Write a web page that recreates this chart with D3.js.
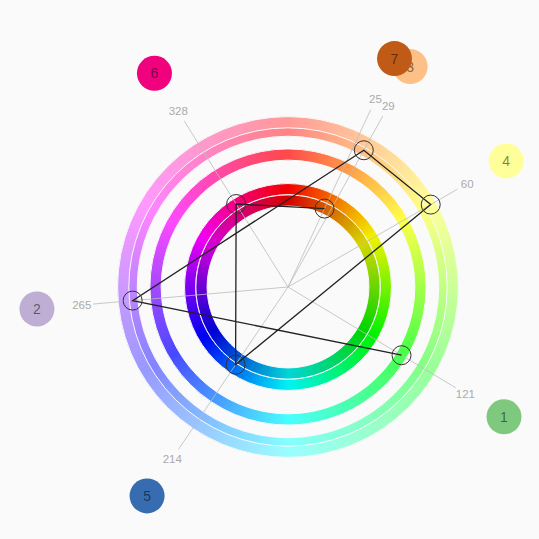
<!DOCTYPE html>
<html>
<head>
<meta charset="utf-8">
<script src="https://cdn.jsdelivr.net/npm/d3@7"></script>
<style>
  html, body { margin: 0; padding: 0; background: #fafafa; }
  svg { display: block; }
</style>
</head>
<body>
<svg id="chart" width="539" height="539"></svg>
<script>
// Palette entries (order 1..7)
const ids = ["1", "2", "3", "4", "5", "6", "7"];
const swatches = ["#7fc97f", "#beaed4", "#fdc086", "#ffff99", "#386cb0", "#f0027f", "#bf5b17"];
const hues = [121, 265, 29, 60, 214, 328, 25];
const lightness = [0.643, 0.757, 0.759, 0.8, 0.455, 0.475, 0.42];

const W = 539, H = 539;
const svg = d3.select("#chart");
svg.append("rect").attr("width", W).attr("height", H).attr("fill", "#fafafa");
const g = svg.append("g").attr("transform", "translate(288,287)");

const r = d3.scaleLinear().domain([0, 1]).range([0, 206]);
const ang = d3.scaleLinear().domain([0, 360]).range([0, 2 * Math.PI]);
const px = (h, rad) => rad * Math.sin(ang(h));
const py = (h, rad) => -rad * Math.cos(ang(h));

const band = 5.6;
const arc = d3.arc();
const steps = d3.range(0, 360, 1);

// Lightness rings, one per colour, drawn in order
ids.forEach((id, i) => {
  const rr = r(lightness[i]);
  const ring = g.append("g");
  ring.selectAll("path").data(steps).join("path")
    .attr("d", d => arc({
      innerRadius: rr - band, outerRadius: rr + band,
      startAngle: ang(d - 0.4), endAngle: ang(d + 1.4)
    }))
    .attr("fill", d => d3.hsl(d + 0.5, 1, lightness[i]).formatHex());
  ring.selectAll("circle").data([rr - band, rr + band]).join("circle")
    .attr("r", d => d).attr("fill", "none")
    .attr("stroke", "#fafafa").attr("stroke-width", 1);
});

// Radial hue lines
g.selectAll("line.spoke").data(ids).join("line").attr("class", "spoke")
  .attr("x1", 0).attr("y1", 0)
  .attr("x2", (d, i) => px(hues[i], r(0.95)))
  .attr("y2", (d, i) => py(hues[i], r(0.95)))
  .attr("stroke", "#bbb").attr("stroke-opacity", 0.8).attr("stroke-width", 1);

// Hue labels
g.selectAll("text.hue").data(ids).join("text").attr("class", "hue")
  .attr("x", (d, i) => px(hues[i], r(1) + 1))
  .attr("y", (d, i) => py(hues[i], r(1) + 1))
  .attr("text-anchor", "middle").attr("dominant-baseline", "central")
  .attr("font-family", "'Helvetica Neue', Arial, 'Liberation Sans', sans-serif")
  .attr("font-size", 11.5).attr("fill", "#aaa")
  .text((d, i) => hues[i]);

// Connecting path in palette order
const line = d3.line();
g.append("path")
  .attr("d", line(ids.map((d, i) => [px(hues[i], r(lightness[i])), py(hues[i], r(lightness[i]))])))
  .attr("fill", "none").attr("stroke", "#222").attr("stroke-width", 1.3);

// Point markers
g.selectAll("circle.pt").data(ids).join("circle").attr("class", "pt")
  .attr("cx", (d, i) => px(hues[i], r(lightness[i])))
  .attr("cy", (d, i) => py(hues[i], r(lightness[i])))
  .attr("r", 9.5).attr("fill", "none").attr("stroke", "#333").attr("stroke-width", 1);

// Swatch bubbles
const sw = g.selectAll("g.sw").data(ids).join("g").attr("class", "sw")
  .attr("transform", (d, i) => `translate(${px(hues[i], 252)},${py(hues[i], 252)})`);
sw.append("circle").attr("r", 17.5).attr("fill", (d, i) => swatches[i]);
sw.append("text").attr("text-anchor", "middle").attr("dominant-baseline", "central")
  .attr("font-family", "'Helvetica Neue', Arial, 'Liberation Sans', sans-serif")
  .attr("font-size", 14).attr("fill", "#000").attr("fill-opacity", 0.5)
  .text(d => d);
</script>
</body>
</html>
